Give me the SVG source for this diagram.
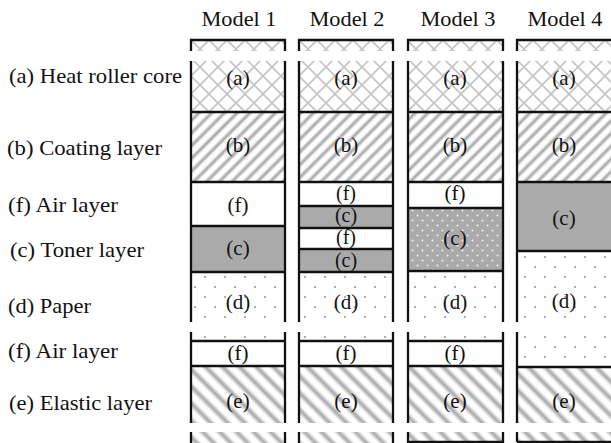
<svg xmlns="http://www.w3.org/2000/svg" width="611" height="443" viewBox="0 0 611 443">
  <style>
    text { font-family: "Liberation Serif", "Times New Roman", serif; font-size: 21px; fill: #111; }
    .lbl { text-anchor: middle; }
    .thin { font-size: 20px; }
    .edge { fill: none; stroke: #111; stroke-width: 2.3; }
    .core { fill: url(#crossHatch); }
    .coat { fill: url(#stripeUp); }
    .air { fill: #fff; }
    .toner { fill: #aaaaaa; }
    .tonerDot { fill: url(#tonerDots); }
    .paper { fill: url(#paperDots); }
    .elastic { fill: url(#stripeDown); }
    .gap { fill: #fff; }
  </style>
  <defs>
    <!-- heat roller core: light diamond lattice -->
    <pattern id="crossHatch" patternUnits="userSpaceOnUse" width="18" height="18" x="191" y="40">
      <rect width="18" height="18" fill="#fff"/>
      <path d="M0,0 L18,18 M18,0 L0,18" stroke="#c4c4c4" stroke-width="1.6"/>
    </pattern>
    <!-- soft-edged grey stripe profile -->
    <linearGradient id="softStripe" x1="0" y1="0" x2="1" y2="0">
      <stop offset="0" stop-color="#fff"/>
      <stop offset="0.18" stop-color="#fff"/>
      <stop offset="0.5" stop-color="#a4a4a4"/>
      <stop offset="0.82" stop-color="#fff"/>
      <stop offset="1" stop-color="#fff"/>
    </linearGradient>
    <!-- coating layer: stripes rising to the right -->
    <pattern id="stripeUp" patternUnits="userSpaceOnUse" width="9" height="9" patternTransform="rotate(45)">
      <rect width="9" height="9" fill="url(#softStripe)"/>
    </pattern>
    <!-- elastic layer: wider stripes falling to the right -->
    <pattern id="stripeDown" patternUnits="userSpaceOnUse" width="12" height="12" patternTransform="rotate(-45)">
      <rect width="12" height="12" fill="url(#softStripe)"/>
    </pattern>
    <!-- paper: sparse grey dots -->
    <pattern id="paperDots" patternUnits="userSpaceOnUse" width="20" height="20" x="0" y="272">
      <rect width="20" height="20" fill="#fff"/>
      <circle cx="5" cy="5" r="1.1" fill="#9a9a9a"/>
      <circle cx="15" cy="15" r="1.1" fill="#9a9a9a"/>
    </pattern>
    <!-- toner mixed into paper: grey with white dots -->
    <pattern id="tonerDots" patternUnits="userSpaceOnUse" width="10" height="10" x="0" y="208">
      <rect width="10" height="10" fill="#aaaaaa"/>
      <circle cx="2.5" cy="2.5" r="1" fill="#f2f2f2"/>
      <circle cx="7.5" cy="7.5" r="1" fill="#f2f2f2"/>
    </pattern>
  </defs>

  <!-- column headings -->
  <g id="headings">
    <text class="lbl" x="239" y="26" textLength="75" lengthAdjust="spacingAndGlyphs">Model 1</text>
    <text class="lbl" x="347" y="26" textLength="75" lengthAdjust="spacingAndGlyphs">Model 2</text>
    <text class="lbl" x="458" y="26" textLength="75" lengthAdjust="spacingAndGlyphs">Model 3</text>
    <text class="lbl" x="565" y="26" textLength="75" lengthAdjust="spacingAndGlyphs">Model 4</text>
  </g>

  <!-- layer names -->
  <g id="legend">
    <text x="9" y="83" textLength="173" lengthAdjust="spacingAndGlyphs">(a) Heat roller core</text>
    <text x="7" y="155" textLength="155" lengthAdjust="spacingAndGlyphs">(b) Coating layer</text>
    <text x="8" y="212" textLength="110" lengthAdjust="spacingAndGlyphs">(f) Air layer</text>
    <text x="10" y="257" textLength="134" lengthAdjust="spacingAndGlyphs">(c) Toner layer</text>
    <text x="8" y="313" textLength="83" lengthAdjust="spacingAndGlyphs">(d) Paper</text>
    <text x="8" y="358" textLength="110" lengthAdjust="spacingAndGlyphs">(f) Air layer</text>
    <text x="9" y="410" textLength="143" lengthAdjust="spacingAndGlyphs">(e) Elastic layer</text>
  </g>

  <!-- Model 1 stack -->
  <g id="model1">
    <rect class="core" x="191" y="40" width="94" height="72"/>
    <rect class="coat" x="191" y="112" width="94" height="70"/>
    <rect class="air" x="191" y="182" width="94" height="44"/>
    <rect class="toner" x="191" y="226" width="94" height="46"/>
    <rect class="paper" x="191" y="272" width="94" height="69"/>
    <rect class="air" x="191" y="341" width="94" height="25"/>
    <rect class="elastic" x="191" y="366" width="94" height="77"/>
    <path class="edge" d="M191,443 V40 H285 V443 M191,112 H285 M191,182 H285 M191,226 H285 M191,272 H285 M191,341 H285 M191,366 H285"/>
    <text class="lbl" x="238" y="85">(a)</text>
    <text class="lbl" x="238" y="152">(b)</text>
    <text class="lbl" x="238" y="212">(f)</text>
    <text class="lbl" x="238" y="255">(c)</text>
    <text class="lbl" x="238" y="309">(d)</text>
    <text class="lbl" x="238" y="360">(f)</text>
    <text class="lbl" x="238" y="408">(e)</text>
  </g>

  <!-- Model 2 stack -->
  <g id="model2">
    <rect class="core" x="299" y="40" width="94" height="72"/>
    <rect class="coat" x="299" y="112" width="94" height="70"/>
    <rect class="air" x="299" y="182" width="94" height="24"/>
    <rect class="toner" x="299" y="206" width="94" height="22"/>
    <rect class="air" x="299" y="228" width="94" height="21"/>
    <rect class="toner" x="299" y="249" width="94" height="23"/>
    <rect class="paper" x="299" y="272" width="94" height="69"/>
    <rect class="air" x="299" y="341" width="94" height="25"/>
    <rect class="elastic" x="299" y="366" width="94" height="77"/>
    <path class="edge" d="M299,443 V40 H393 V443 M299,112 H393 M299,182 H393 M299,206 H393 M299,228 H393 M299,249 H393 M299,272 H393 M299,341 H393 M299,366 H393"/>
    <text class="lbl" x="346" y="85">(a)</text>
    <text class="lbl" x="346" y="152">(b)</text>
    <text class="lbl thin" x="346" y="200">(f)</text>
    <text class="lbl thin" x="346" y="222">(c)</text>
    <text class="lbl thin" x="346" y="244">(f)</text>
    <text class="lbl thin" x="346" y="267">(c)</text>
    <text class="lbl" x="346" y="309">(d)</text>
    <text class="lbl" x="346" y="360">(f)</text>
    <text class="lbl" x="346" y="408">(e)</text>
  </g>

  <!-- Model 3 stack -->
  <g id="model3">
    <rect class="core" x="408" y="40" width="95" height="72"/>
    <rect class="coat" x="408" y="112" width="95" height="70"/>
    <rect class="air" x="408" y="182" width="95" height="26"/>
    <rect class="tonerDot" x="408" y="208" width="95" height="63"/>
    <rect class="paper" x="408" y="271" width="95" height="70"/>
    <rect class="air" x="408" y="341" width="95" height="25"/>
    <rect class="elastic" x="408" y="366" width="95" height="76"/>
    <path class="edge" d="M408,442 V40 H503 V442 Z M408,112 H503 M408,182 H503 M408,208 H503 M408,271 H503 M408,341 H503 M408,366 H503"/>
    <text class="lbl" x="455" y="85">(a)</text>
    <text class="lbl" x="455" y="152">(b)</text>
    <text class="lbl" x="455" y="200">(f)</text>
    <text class="lbl" x="455" y="245">(c)</text>
    <text class="lbl" x="455" y="309">(d)</text>
    <text class="lbl" x="455" y="360">(f)</text>
    <text class="lbl" x="455" y="408">(e)</text>
  </g>

  <!-- Model 4 stack -->
  <g id="model4">
    <rect class="core" x="517" y="40" width="96" height="72"/>
    <rect class="coat" x="517" y="112" width="96" height="70"/>
    <rect class="toner" x="517" y="182" width="96" height="69"/>
    <rect class="paper" x="517" y="251" width="96" height="116"/>
    <rect class="elastic" x="517" y="367" width="96" height="75"/>
    <path class="edge" d="M517,442 V40 H613 M517,442 H613 M517,112 H613 M517,182 H613 M517,251 H613 M517,367 H613"/>
    <text class="lbl" x="564" y="85">(a)</text>
    <text class="lbl" x="564" y="152">(b)</text>
    <text class="lbl" x="564" y="225">(c)</text>
    <text class="lbl" x="564" y="308">(d)</text>
    <text class="lbl" x="564" y="408">(e)</text>
  </g>

  <!-- break bands across all stacks -->
  <g id="breaks">
    <rect class="gap" x="185" y="51" width="430" height="10"/>
    <rect class="gap" x="185" y="322" width="430" height="10"/>
    <rect class="gap" x="185" y="423" width="430" height="9"/>
  </g>
</svg>
